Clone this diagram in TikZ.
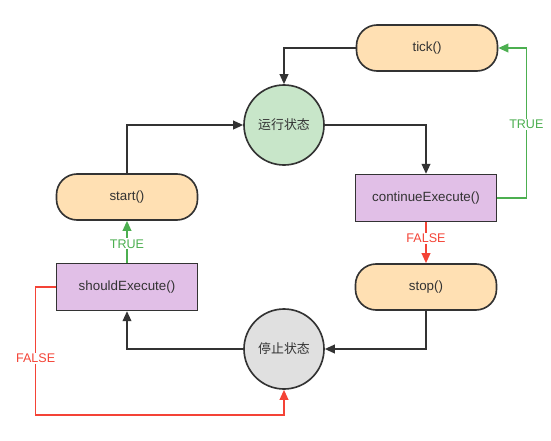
\documentclass[tikz,border=0pt]{standalone}
\usepackage{fontspec}
\setmainfont{Liberation Sans}
\newfontfamily\cjkfont{Noto Sans CJK SC}
\usetikzlibrary{arrows.meta}

\definecolor{linegray}{HTML}{333333}
\definecolor{callfill}{HTML}{FFE0B3}
\definecolor{checkfill}{HTML}{E1BFE7}
\definecolor{runfill}{HTML}{C8E6C9}
\definecolor{haltfill}{HTML}{E0E0E0}
\definecolor{truegreen}{HTML}{4CAF50}
\definecolor{falsered}{HTML}{F44336}

\begin{document}
\begin{tikzpicture}[
  x=0.03cm, y=-0.03cm,
  every node/.style={font=\fontsize{11.4}{13}\selectfont, text=linegray},
  call/.style={rectangle, draw=linegray, line width=1.4pt, rounded corners=0.62cm, fill=callfill, minimum width=4.23cm, minimum height=1.38cm},
  check/.style={rectangle, draw=linegray, line width=1.4pt, fill=checkfill, minimum width=4.23cm, minimum height=1.4cm},
  state/.style={circle, draw=linegray, line width=1.4pt, minimum size=2.4cm, font=\cjkfont\fontsize{11}{13}\selectfont},
  arrow/.style={-{Triangle[length=3mm, width=2.6mm]}, line width=1.4pt, draw=linegray},
  yes/.style={arrow, draw=truegreen},
  no/.style={arrow, draw=falsered},
  cond/.style={fill=white, inner sep=1pt, font=\fontsize{10.7}{12}\selectfont}
]
\useasboundingbox (0,0) rectangle (551,441);

\node[call] (tick) at (427,48) {tick()};
\node[state, fill=runfill] (run) at (284,125) {运行状态};
\node[check] (cont) at (426,198) {continueExecute()};
\node[call] (stop) at (426,287) {stop()};
\node[state, fill=haltfill] (halt) at (284,349) {停止状态};
\node[check] (should) at (127,287) {shouldExecute()};
\node[call] (start) at (127,197) {start()};

\draw[arrow] (tick.west) -| (run.north);
\draw[arrow] (start.north) |- (run.west);
\draw[arrow] (run.east) -| (cont.north);
\draw[yes] (cont.east) -- ++(29,0) |- node[cond, text=truegreen, pos=0.245] {TRUE} (tick.east);
\draw[no] (cont.south) -- node[cond, text=falsered, pos=0.4] {FALSE} (stop.north);
\draw[arrow] (stop.south) |- (halt.east);
\draw[arrow] (halt.west) -| (should.south);
\draw[yes] (should.north) -- node[cond, text=truegreen, pos=0.45] {TRUE} (start.south);
\draw[no] (should.west) -| node[cond, text=falsered, pos=0.78] {FALSE} ++(-20,128) -| (halt.south);
\end{tikzpicture}
\end{document}
